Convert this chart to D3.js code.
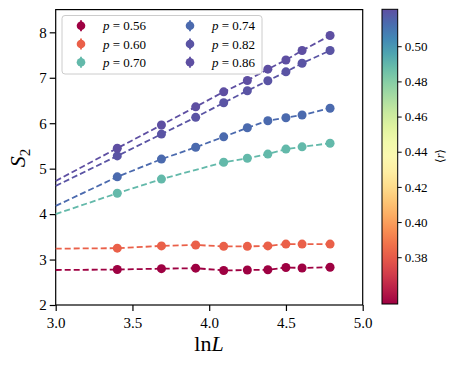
<!DOCTYPE html>
<html lang="en">
<head>
    <meta charset="UTF-8">
    <title>S2 vs ln L</title>
    <script src="https://d3js.org/d3.v7.min.js"></script>
    <style>
        body { margin: 0; background: #fff; }
        svg text { font-family: "Liberation Serif", "DejaVu Serif", serif; fill: #000; }
    </style>
</head>
<body>
<svg id="chart" width="457" height="366"></svg>
<script>
    // data
    const sizes = [30, 40, 50, 60, 70, 80, 90, 100, 120];
    const pLabels = ["0.56", "0.60", "0.70", "0.74", "0.82", "0.86"];
    const rMean = [0.3534, 0.382, 0.489, 0.513, 0.5195, 0.521];
    const s2_056 = [2.78, 2.80, 2.81, 2.76, 2.77, 2.775, 2.825, 2.815, 2.83];
    const s2_060 = [3.25, 3.30, 3.32, 3.29, 3.29, 3.30, 3.34, 3.34, 3.34];
    const s2_070 = [4.46, 4.77, null, 5.14, 5.23, 5.32, 5.43, 5.48, 5.56];
    const s2_074 = [4.82, 5.21, 5.47, 5.70, 5.90, 6.055, 6.12, 6.18, 6.33];
    const s2_082 = [5.28, 5.76, 6.13, 6.45, 6.715, 6.935, 7.13, 7.32, 7.60];
    const s2_086 = [5.45, 5.96, 6.36, 6.69, 6.94, 7.19, 7.39, 7.60, 7.93];
    const fitAt3 = [2.77, 3.24, 4.00, 4.18, 4.62, 4.73];   // dashed fit value at ln L = 3
    const xTicks = [3.0, 3.5, 4.0, 4.5, 5.0];
    const yTicks = [2, 3, 4, 5, 6, 7, 8];
    const cbTicks = [0.38, 0.40, 0.42, 0.44, 0.46, 0.48, 0.50];

    const allS2 = [s2_056, s2_060, s2_070, s2_074, s2_082, s2_086];

    const svg = d3.select("#chart");
    const x = d3.scaleLinear().domain([3, 5]).range([55.7, 362.7]);
    const y = d3.scaleLinear().domain([2, 8.5]).range([305, 9.6]);
    const rExtent = d3.extent(rMean);
    const color = d3.scaleSequential(d3.interpolateSpectral).domain(rExtent);

    // axes
    const xAxis = svg.append("g")
        .attr("transform", `translate(0,${y.range()[0]})`)
        .call(d3.axisBottom(x).tickValues(xTicks).tickFormat(d3.format(".1f")).tickSize(6).tickSizeOuter(0));
    const yAxis = svg.append("g")
        .attr("transform", `translate(${x.range()[0]},0)`)
        .call(d3.axisLeft(y).tickValues(yTicks).tickFormat(d3.format("d")).tickSize(6).tickSizeOuter(0));
    [xAxis, yAxis].forEach(a => {
        a.select(".domain").remove();
        a.selectAll("line").attr("stroke", "#000").attr("stroke-width", 1.2);
        a.selectAll("text").style("font-family", "Liberation Serif").style("font-size", "15px");
    });
    xAxis.selectAll("text").attr("dy", "0.95em");
    yAxis.selectAll("text").attr("x", -9);

    // frame
    svg.append("rect")
        .attr("x", x.range()[0]).attr("y", y.range()[1])
        .attr("width", x.range()[1] - x.range()[0])
        .attr("height", y.range()[0] - y.range()[1])
        .attr("fill", "none").attr("stroke", "#000").attr("stroke-width", 1.2);

    // series
    const line = d3.line().x(d => x(d[0])).y(d => y(d[1]));
    allS2.forEach((vals, i) => {
        const pts = sizes.map((L, j) => [Math.log(L), vals[j]]).filter(d => d[1] !== null);
        const c = color(rMean[i]);
        svg.append("path")
            .datum([[3, fitAt3[i]]].concat(pts))
            .attr("d", line)
            .attr("fill", "none")
            .attr("stroke", c)
            .attr("stroke-width", 1.8)
            .attr("stroke-dasharray", "6,3");
        svg.append("g").selectAll("circle")
            .data(pts)
            .enter().append("circle")
            .attr("cx", d => x(d[0]))
            .attr("cy", d => y(d[1]))
            .attr("r", 4.5)
            .attr("fill", c);
    });

    // axis labels
    const sLab = svg.append("text")
        .attr("transform", "translate(25,158) rotate(-90)")
        .attr("text-anchor", "middle")
        .style("font-size", "22px");
    sLab.append("tspan").style("font-style", "italic").text("S");
    sLab.append("tspan").attr("dy", 5).style("font-size", "15px").text("2");

    const lLab = svg.append("text")
        .attr("x", 209).attr("y", 351)
        .attr("text-anchor", "middle")
        .style("font-size", "22px");
    lLab.append("tspan").text("ln");
    lLab.append("tspan").style("font-style", "italic").text("L");

    // legend
    const legend = svg.append("g");
    legend.append("rect")
        .attr("x", 62).attr("y", 15.5).attr("width", 200).attr("height", 58.5)
        .attr("rx", 3)
        .attr("fill", "#fff").attr("fill-opacity", 0.8)
        .attr("stroke", "#ccc").attr("stroke-width", 1);
    pLabels.forEach((p, i) => {
        const col = Math.floor(i / 3), row = i % 3;
        const mx = col === 0 ? 81 : 190;
        const my = 25.7 + row * 18.3;
        const c = color(rMean[i]);
        legend.append("line")
            .attr("x1", mx).attr("x2", mx).attr("y1", my - 5.5).attr("y2", my + 5.5)
            .attr("stroke", c).attr("stroke-width", 1.8);
        legend.append("circle").attr("cx", mx).attr("cy", my).attr("r", 4.3).attr("fill", c);
        const t = legend.append("text")
            .attr("x", mx + 22).attr("y", my + 4.5)
            .style("font-size", "13px");
        t.append("tspan").style("font-style", "italic").text("p");
        t.append("tspan").text(" = " + p);
    });

    // colorbar
    const cbX = 382, cbW = 15.7;
    const cb = d3.scaleLinear().domain(rExtent).range([304, 9.3]);
    const grad = svg.append("defs").append("linearGradient")
        .attr("id", "spectral").attr("x1", 0).attr("x2", 0).attr("y1", 1).attr("y2", 0);
    d3.range(0, 1.0001, 0.05).forEach(t => {
        grad.append("stop").attr("offset", t).attr("stop-color", d3.interpolateSpectral(t));
    });
    svg.append("rect")
        .attr("x", cbX).attr("y", cb.range()[1])
        .attr("width", cbW).attr("height", cb.range()[0] - cb.range()[1])
        .attr("fill", "url(#spectral)")
        .attr("stroke", "#000").attr("stroke-width", 1);
    const cbAxis = svg.append("g")
        .attr("transform", `translate(${cbX + cbW},0)`)
        .call(d3.axisRight(cb).tickValues(cbTicks).tickFormat(d3.format(".2f")).tickSize(4).tickSizeOuter(0));
    cbAxis.select(".domain").remove();
    cbAxis.selectAll("line").attr("stroke", "#000").attr("stroke-width", 1);
    cbAxis.selectAll("text").attr("x", 7).style("font-family", "Liberation Serif").style("font-size", "13px");

    svg.append("text")
        .attr("transform", "translate(444,156) rotate(-90)")
        .attr("text-anchor", "middle")
        .style("font-size", "12px")
        .html("⟨<tspan font-style='italic'>r</tspan>⟩");
</script>
</body>
</html>
